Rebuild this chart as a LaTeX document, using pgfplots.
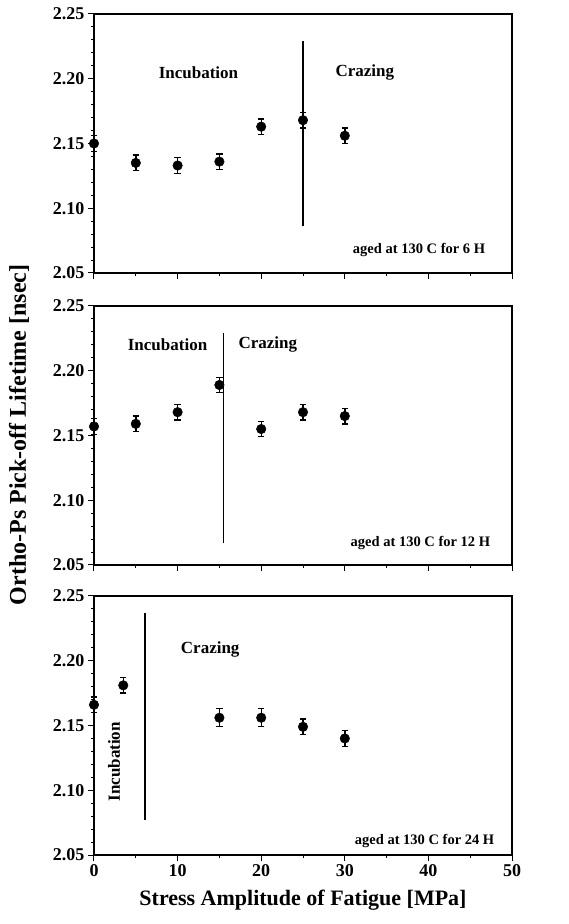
\documentclass[border=0pt]{standalone}
\usepackage{fontspec}
\setmainfont{Liberation Serif}
\usepackage{pgfplots}
\pgfplotsset{compat=1.18}

\tikzset{
  lbl/.style={font=\fontsize{17}{17}\selectfont\bfseries},
  note/.style={font=\fontsize{14.5}{14.5}\selectfont\bfseries, anchor=east},
}
\pgfplotsset{
  panel/.style={
    scale only axis, width=418pt, height=259pt,
    anchor=south west,
    xmin=0, xmax=50, ymin=2.05, ymax=2.25,
    xtick={0,10,...,50}, minor x tick num=1,
    ytick={2.05,2.10,...,2.25}, minor y tick num=4,
    xtick pos=bottom, ytick pos=left,
    tick align=outside,
    major tick length=6pt, minor tick length=3pt,
    axis line style={line width=1.1pt},
    every tick/.style={black, line width=1pt},
    tick label style={font=\fontsize{18}{18}\selectfont\bfseries},
    yticklabel style={/pgf/number format/.cd, fixed, fixed zerofill, precision=2, assume math mode=true},
    xticklabel style={/pgf/number format/assume math mode=true},
    clip=false,
  },
  pts/.style={only marks, mark=*, black, mark size=4.8pt,
    error bars/.cd, y dir=both, y explicit,
    error bar style={line width=1.4pt},
    error mark options={rotate=90, mark size=3.2pt, line width=1.4pt}},
  vline/.style={black, line width=1.5pt},
}

\begin{document}
\begin{tikzpicture}[x=1pt,y=1pt]
\path[use as bounding box] (0,0) rectangle (568,924);

% 6 H
\begin{axis}[panel, at={(94pt,651pt)}, xticklabels={}]
\addplot[pts] coordinates {
  (0,2.150) +- (0,0.006)
  (5,2.135) +- (0,0.006)
  (10,2.133) +- (0,0.006)
  (15,2.136) +- (0,0.006)
  (20,2.163) +- (0,0.006)
  (25,2.168) +- (0,0.006)
  (30,2.156) +- (0,0.006)
};
\addplot[vline] coordinates {(25,2.086) (25,2.229)};
\node[lbl] at (axis cs:12.5,2.205) {Incubation};
\node[lbl] at (axis cs:32.4,2.205) {Crazing};
\node[note] at (axis cs:47.2,2.068) {aged at 130 C for 6 H};
\end{axis}

% 12 H
\begin{axis}[panel, at={(94pt,359pt)}, xticklabels={}]
\addplot[pts] coordinates {
  (0,2.157) +- (0,0.006)
  (5,2.159) +- (0,0.006)
  (10,2.168) +- (0,0.006)
  (15,2.189) +- (0,0.006)
  (20,2.155) +- (0,0.006)
  (25,2.168) +- (0,0.006)
  (30,2.165) +- (0,0.006)
};
\addplot[vline] coordinates {(15.5,2.067) (15.5,2.229)};
\node[lbl] at (axis cs:8.8,2.220) {Incubation};
\node[lbl] at (axis cs:20.8,2.220) {Crazing};
\node[note] at (axis cs:47.8,2.067) {aged at 130 C for 12 H};
\end{axis}

% 24 H
\begin{axis}[panel, at={(94pt,69pt)}]
\addplot[pts] coordinates {
  (0,2.166) +- (0,0.006)
  (3.5,2.181) +- (0,0.006)
  (15,2.156) +- (0,0.007)
  (20,2.156) +- (0,0.007)
  (25,2.149) +- (0,0.006)
  (30,2.140) +- (0,0.006)
};
\addplot[vline] coordinates {(6.1,2.077) (6.1,2.237)};
\node[lbl] at (axis cs:13.9,2.209) {Crazing};
\node[lbl, rotate=90] at (axis cs:2.4,2.122) {Incubation};
\node[note] at (axis cs:48.3,2.061) {aged at 130 C for 24 H};
\end{axis}

\node[rotate=90, font=\fontsize{24}{24}\selectfont\bfseries] at (19,489) {Ortho-Ps Pick-off Lifetime [nsec]};
\node[font=\fontsize{22}{22}\selectfont\bfseries] at (303,24) {Stress Amplitude of Fatigue [MPa]};
\end{tikzpicture}
\end{document}
